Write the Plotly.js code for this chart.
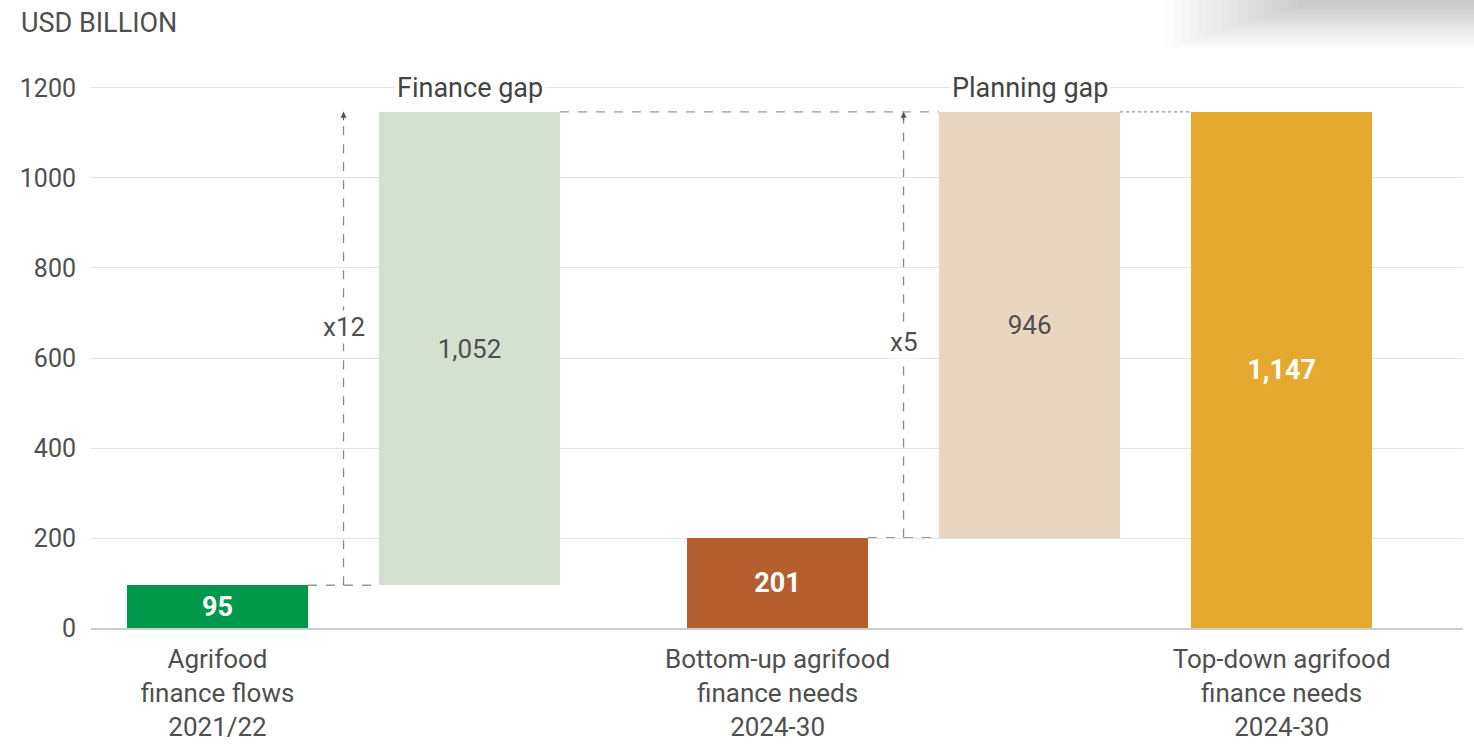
<!DOCTYPE html>
<html>
<head>
<meta charset="utf-8">
<script src="https://cdn.plot.ly/plotly-3.0.1.min.js"></script>
<style>
  html, body { margin: 0; padding: 0; background: #ffffff; }
  #chart { width: 1474px; height: 744px; }
</style>
</head>
<body>
<div id="chart"></div>
<script>
// ---------- data ----------
const barNames = ['Agrifood finance flows 2021/22', 'Finance gap', 'Bottom-up agrifood finance needs 2024-30', 'Planning gap', 'Top-down agrifood finance needs 2024-30'];
const barValues = [95, 1052, 201, 946, 1147];
const barBases = [0, 95, 0, 201, 0];
const isGap = [false, true, false, true, false];
const gapTitles = ['Finance gap', 'Planning gap'];
const gapMultipliers = ['x12', 'x5'];
const categoryLabels = [
  'Agrifood<br>finance flows<br>2021/22',
  'Bottom-up agrifood<br>finance needs<br>2024-30',
  'Top-down agrifood<br>finance needs<br>2024-30'
];
const yTickValues = [0, 200, 400, 600, 800, 1000, 1200];
const unitLabel = 'USD BILLION';

// ---------- layout constants (positions/styles) ----------
const slotX = [0, 1, 2.2222, 3.2222, 4.2222];
const barWidth = 0.718;
const barColors = ['#00994C', '#D4E0D0', '#B65F2E', '#E8D6C1', '#E6A92F'];
const multLabelFrac = [0.546, 0.46];
const FONT = 'Roboto, "Noto Sans", sans-serif';
const TEXT = '#4f4f4f';

const fmt = v => v.toLocaleString('en-US');
const barText = barValues.map((v, i) => isGap[i] ? fmt(v) : '<b>' + fmt(v) + '</b>');
const textColors = isGap.map(g => g ? '#505050' : '#ffffff');
const textSizes = isGap.map(g => g ? 26 : 27);

const trace = {
  type: 'bar',
  x: slotX,
  y: barValues,
  base: barBases,
  width: barWidth,
  marker: { color: barColors, line: { width: 0 } },
  text: barText,
  textposition: 'inside',
  insidetextanchor: 'middle',
  textangle: 0,
  constraintext: 'none',
  insidetextfont: { family: FONT, color: textColors, size: textSizes },
  hoverinfo: 'skip',
  cliponaxis: false
};

const shapes = [];
const annotations = [];
const half = barWidth / 2;
const tops = barValues.map((v, i) => v + barBases[i]);

// horizontal connectors
const connectors = [
  { from: 0, to: 1, y: tops[0], dash: 'dash' },
  { from: 1, to: 3, y: tops[1], dash: 'dash' },
  { from: 2, to: 3, y: tops[2], dash: 'dash' },
  { from: 3, to: 4, y: tops[3], dash: 'dot' }
];
connectors.forEach(c => {
  shapes.push({
    type: 'line', xref: 'x', yref: 'y',
    x0: slotX[c.from] + half, x1: slotX[c.to] - half, y0: c.y, y1: c.y,
    line: { color: '#9a9a9a', width: 1.3, dash: c.dash }, layer: 'below'
  });
});

// vertical multiplier arrows
const gapIdx = [1, 3];
gapIdx.forEach((gi, k) => {
  const xm = (slotX[gi - 1] + slotX[gi]) / 2;
  const y0 = barBases[gi];
  const y1 = tops[gi];
  shapes.push({
    type: 'line', xref: 'x', yref: 'y',
    x0: xm, x1: xm, y0: y0, y1: y1,
    line: { color: '#8a8a8a', width: 1.3, dash: 'dash' }, layer: 'below'
  });
  annotations.push({
    x: xm, y: y1, xref: 'x', yref: 'y',
    ax: 0, ay: 10, axref: 'pixel', ayref: 'pixel',
    showarrow: true, arrowhead: 2, arrowsize: 1, arrowwidth: 1.2, arrowcolor: '#555',
    text: ''
  });
  annotations.push({
    x: xm, y: y0 + (y1 - y0) * multLabelFrac[k], xref: 'x', yref: 'y',
    text: gapMultipliers[k], showarrow: false, bgcolor: '#ffffff',
    font: { family: FONT, size: 26, color: TEXT }, xanchor: 'center', yanchor: 'middle'
  });
  annotations.push({
    x: slotX[gi], y: 1200, xref: 'x', yref: 'y',
    text: gapTitles[k], showarrow: false, bgcolor: '#ffffff', borderpad: 2,
    font: { family: FONT, size: 27, color: '#444444' }, xanchor: 'center', yanchor: 'middle'
  });
});

// unit label
annotations.push({
  x: -0.0525, y: 1.065, xref: 'paper', yref: 'paper',
  text: unitLabel, showarrow: false, xanchor: 'left', yanchor: 'middle',
  font: { family: FONT, size: 27, color: TEXT }
});

// soft top-right page shadow (artifact of the reference)
const px = p => (p - 91) / 1372;
const py = p => (628 - p) / 568;
const nLayers = 18;
for (let i = 0; i < nLayers; i++) {
  const t = i / (nLayers - 1);
  const left = 1165 + t * 140;
  const bottom = 48 - t * 44;
  shapes.push({
    type: 'rect', xref: 'paper', yref: 'paper',
    x0: px(left), x1: px(1474), y0: py(bottom), y1: py(0),
    fillcolor: 'rgba(0,0,0,0.012)', line: { width: 0 }, layer: 'below'
  });
}

const layout = {
  width: 1474, height: 744,
  margin: { l: 91, r: 11, t: 60, b: 116 },
  paper_bgcolor: '#ffffff', plot_bgcolor: '#ffffff',
  showlegend: false,
  bargap: 0,
  xaxis: {
    range: [-0.502, 4.942],
    tickvals: [slotX[0], slotX[2], slotX[4]],
    ticktext: categoryLabels,
    showgrid: false, zeroline: false,
    showline: true, linecolor: '#cccccc', linewidth: 2,
    ticks: '', ticklabelstandoff: 7,
    tickfont: { family: FONT, size: 26, color: TEXT },
    fixedrange: true
  },
  yaxis: {
    range: [0, 1262.2],
    tickvals: yTickValues,
    showgrid: true, gridcolor: '#e3e3e3', gridwidth: 1,
    zeroline: false, showline: false,
    ticks: '', ticklabelstandoff: 14,
    tickfont: { family: FONT, size: 25, color: TEXT },
    fixedrange: true
  },
  shapes: shapes,
  annotations: annotations
};

Plotly.newPlot('chart', [trace], layout, { displayModeBar: false, staticPlot: true });
</script>
</body>
</html>
